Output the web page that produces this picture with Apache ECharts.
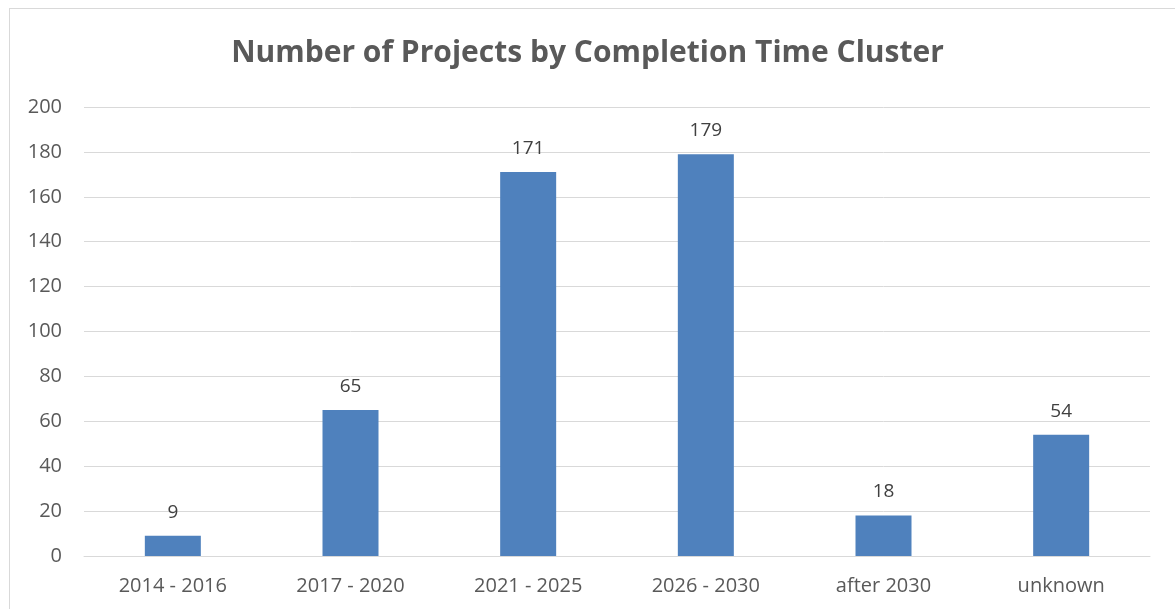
<!DOCTYPE html>
<html>
<head>
<meta charset="utf-8">
<script src="https://cdn.jsdelivr.net/npm/echarts@6/dist/echarts.min.js"></script>
<style>
  html, body { margin: 0; padding: 0; background: #fff; overflow: hidden; }
  #frame { position: absolute; left: 9px; top: 8px; width: 1300px; height: 700px; border: 1px solid #d9d9d9; box-sizing: border-box; }
  #chart { position: absolute; left: 0; top: 0; width: 1175px; height: 609px; }
</style>
</head>
<body>
<div id="frame"></div>
<div id="chart"></div>
<script>
// data
var categories = ['2014 - 2016', '2017 - 2020', '2021 - 2025', '2026 - 2030', 'after 2030', 'unknown']
var projectCounts = [9, 65, 171, 179, 18, 54]

var chart = echarts.init(document.getElementById('chart'))
chart.setOption({
  animation: false,
  title: {
    text: 'Number of Projects by Completion Time Cluster',
    left: 'center',
    top: 33,
    textStyle: {
      fontFamily: 'Open Sans',
      fontWeight: 'bold',
      fontSize: 30,
      color: '#595959'
    }
  },
  grid: {
    left: 84,
    right: 25,
    top: 107,
    bottom: 53
  },
  xAxis: {
    type: 'category',
    data: categories,
    axisLine: { lineStyle: { color: '#d9d9d9', width: 1 } },
    axisTick: { show: false },
    axisLabel: {
      margin: 20,
      fontFamily: 'Open Sans',
      fontSize: 20,
      color: '#595959'
    }
  },
  yAxis: {
    type: 'value',
    min: 0,
    max: 200,
    interval: 20,
    axisLine: { show: false },
    axisTick: { show: false },
    splitLine: { lineStyle: { color: '#d9d9d9', width: 1 } },
    axisLabel: {
      margin: 22,
      fontFamily: 'Open Sans',
      fontSize: 20,
      color: '#595959'
    }
  },
  series: [{
    type: 'bar',
    data: projectCounts,
    barWidth: 56,
    itemStyle: { color: '#4f81bd' },
    label: {
      show: true,
      position: 'top',
      distance: 14,
      fontFamily: 'Open Sans',
      fontSize: 19,
      color: '#404040'
    }
  }]
})
</script>
</body>
</html>
